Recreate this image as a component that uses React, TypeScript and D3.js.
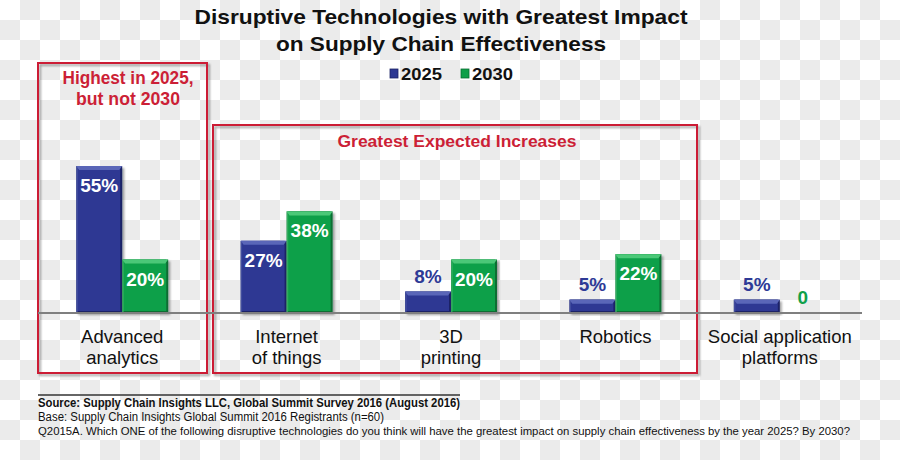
import React from "react";
import * as d3 from "d3";

const categories = ["Advanced\nanalytics", "Internet\nof things", "3D\nprinting", "Robotics", "Social application\nplatforms"];
const seriesNames = ["2025", "2030"];
const values2025 = [55, 27, 8, 5, 5];
const values2030 = [20, 38, 20, 22, 0];
const titleLines = ["Disruptive Technologies with Greatest Impact", "on Supply Chain Effectiveness"];
const footerLines = [
  "Source: Supply Chain Insights LLC, Global Summit Survey 2016 (August 2016)",
  "Base:  Supply Chain Insights Global Summit 2016 Registrants (n=60)",
  "Q2015A. Which ONE of the following disruptive technologies do you think will have the greatest impact on supply chain effectiveness by the year 2025? By 2030?",
];

const W = 900, H = 460;
const baseY = 313;
const colors: Record<string, { main: string; dark: string; light: string; text: string }> = {
  "2025": { main: "#2d3893", dark: "#1c2466", light: "#5a66b8", text: "#2e3a96" },
  "2030": { main: "#10a04a", dark: "#0a6e32", light: "#4cc878", text: "#10a04a" },
};
const red = "#cc1f36";
const font = "'Liberation Sans', Arial, sans-serif";

export default function App() {
  const x0 = d3.scaleBand<string>().domain(categories).range([40, 862]).padding(0);
  const y = d3.scaleLinear().domain([0, 55]).range([baseY, 166]);
  const barW = 46;
  const x1 = (cat: string) =>
    d3.scaleBand<string>().domain(seriesNames).range([x0(cat)! + x0.bandwidth() / 2 - barW, x0(cat)! + x0.bandwidth() / 2 + barW]);

  const data = categories.map((c, i) => ({ cat: c, vals: [values2025[i], values2030[i]] }));

  const checks: JSX.Element[] = [];
  for (let i = 0; i < W / 20; i++)
    for (let j = 0; j < H / 20; j++)
      if ((i + j) % 2 === 1) checks.push(<rect key={`c${i}-${j}`} x={i * 20} y={j * 20} width={20} height={20} fill="#ebebeb" />);

  return (
    <svg width={W} height={H} style={{ position: "absolute", left: 0, top: 0 }} fontFamily={font}>
      <defs>
        <filter id="sh" x="-20%" y="-20%" width="140%" height="140%">
          <feDropShadow dx="2" dy="2" stdDeviation="1.2" floodColor="#000" floodOpacity="0.35" />
        </filter>
      </defs>
      <rect width={W} height={H} fill="#fff" />
      {checks}

      {/* title */}
      <text x={441} y={24} textAnchor="middle" fontSize={20.5} fontWeight="bold" fill="#111" textLength={493} lengthAdjust="spacingAndGlyphs">{titleLines[0]}</text>
      <text x={441} y={51} textAnchor="middle" fontSize={20.5} fontWeight="bold" fill="#111" textLength={330} lengthAdjust="spacingAndGlyphs">{titleLines[1]}</text>

      {/* legend */}
      {seriesNames.map((s, i) => (
        <g key={s} transform={`translate(${390 + i * 71},0)`}>
          <rect x={0} y={69} width={8} height={9} fill={colors[s].main} stroke={colors[s].dark} strokeWidth={0.8} />
          <text x={11} y={80} fontSize={17} fontWeight="bold" fill="#111" textLength={41} lengthAdjust="spacingAndGlyphs">{s}</text>
        </g>
      ))}

      {/* red boxes */}
      <rect x={38} y={63} width={169} height={310} fill="none" stroke={red} strokeWidth={2} filter="url(#sh)" />
      <text x={128} y={84} textAnchor="middle" fontSize={18.5} fontWeight="bold" fill={red} textLength={131} lengthAdjust="spacingAndGlyphs">Highest in 2025,</text>
      <text x={128} y={105} textAnchor="middle" fontSize={18.5} fontWeight="bold" fill={red} textLength={104} lengthAdjust="spacingAndGlyphs">but not 2030</text>
      <rect x={213} y={125} width={484} height={248} fill="none" stroke={red} strokeWidth={2} filter="url(#sh)" />
      <text x={457} y={147} textAnchor="middle" fontSize={16} fontWeight="bold" fill={red} textLength={239} lengthAdjust="spacingAndGlyphs">Greatest Expected Increases</text>

      {/* bars */}
      {data.map((d) => {
        const xs = x1(d.cat);
        return (
          <g key={d.cat}>
            {seriesNames.map((s, k) => {
              const v = d.vals[k];
              const bx = xs(s)!;
              const top = y(v);
              const h = baseY - top;
              const c = colors[s];
              const inside = v >= 15;
              const label = v === 0 ? "0" : `${v}%`;
              return (
                <g key={s}>
                  {h > 0 && (
                    <g filter="url(#sh)">
                      <rect x={bx} y={top} width={barW} height={h} fill={c.dark} />
                      <rect x={bx + 1} y={top} width={barW - 3} height={h - 2} fill={c.main} />
                      <polygon points={`${bx},${top} ${bx + barW},${top} ${bx + barW - 3},${top + 4} ${bx + 3},${top + 4}`} fill={c.light} />
                      <rect x={bx} y={top} width={1.5} height={h} fill={c.light} opacity={0.6} />
                    </g>
                  )}
                  <text
                    x={bx + barW / 2}
                    y={inside ? top + 26 : top - 9}
                    textAnchor="middle"
                    fontSize={19}
                    fontWeight="bold"
                    fill={inside ? "#fff" : c.text}
                  >
                    {label}
                  </text>
                </g>
              );
            })}
            {d.cat.split("\n").map((line, li) => (
              <text key={li} x={x0(d.cat)! + x0.bandwidth() / 2} y={343 + li * 21} textAnchor="middle" fontSize={18.5} fill="#111">
                {line}
              </text>
            ))}
          </g>
        );
      })}

      {/* baseline */}
      <line x1={38} x2={862} y1={baseY} y2={baseY} stroke="#7f7f7f" strokeWidth={2} />

      {/* footer */}
      <line x1={38} x2={460} y1={395} y2={395} stroke="#333" strokeWidth={1.5} />
      <text x={38} y={407} fontSize={12} fontWeight="bold" fill="#111" textLength={422} lengthAdjust="spacingAndGlyphs">{footerLines[0]}</text>
      <text x={38} y={421} fontSize={12} fill="#111" textLength={346} lengthAdjust="spacingAndGlyphs">{footerLines[1]}</text>
      <text x={38} y={435} fontSize={11.5} fill="#111" textLength={812} lengthAdjust="spacingAndGlyphs">{footerLines[2]}</text>
    </svg>
  );
}
